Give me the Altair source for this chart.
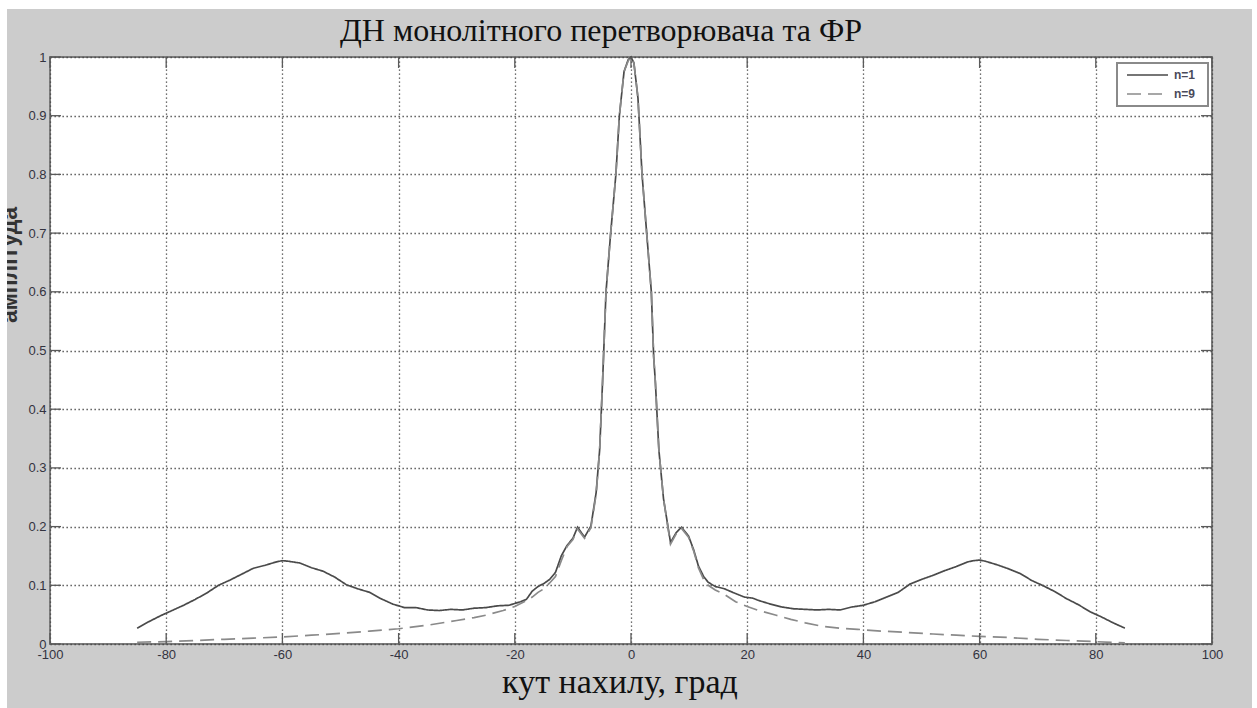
import altair as alt
import pandas as pd

# ---- data ----
angle_n1 = [-85, -83, -81, -79, -77, -75, -73, -71, -69, -67, -65, -63, -61, -60, -59, -57, -55, -53,
            -51, -49, -47, -45, -43, -41, -39, -37, -35, -33, -31, -29, -27, -25, -23, -21, -20, -19,
            -18, -17, -16, -15, -14, -13, -12, -11, -10, -9.2, -8, -6.9, -6, -5.4, -4.9, -4.3, -3.5,
            -2.6, -2, -1.2, -0.5, 0, 0.5, 1.2, 1.9, 2.7, 3.5, 3.9, 4.2, 4.8, 5.6, 6.8, 7.8, 8.7, 9.9,
            10.8, 11.6, 12.5, 13.3, 14.5, 16.1, 17.5, 19.5, 21, 22, 24, 26, 28, 30, 32, 34, 36, 38,
            40, 42, 44, 46, 48, 50, 52, 54, 56, 58, 59, 60, 61, 63, 65, 67, 69, 71, 73, 75, 77, 79,
            81, 83, 85]
amp_n1 = [0.027, 0.038, 0.048, 0.057, 0.066, 0.076, 0.087, 0.100, 0.109, 0.119, 0.129, 0.134, 0.140,
          0.142, 0.141, 0.138, 0.130, 0.124, 0.114, 0.101, 0.094, 0.088, 0.077, 0.068, 0.062, 0.062,
          0.058, 0.057, 0.059, 0.058, 0.061, 0.062, 0.065, 0.066, 0.069, 0.072, 0.076, 0.090, 0.098,
          0.103, 0.110, 0.122, 0.150, 0.168, 0.180, 0.199, 0.182, 0.201, 0.258, 0.33, 0.445, 0.60,
          0.70, 0.80, 0.90, 0.975, 0.995, 1.0, 0.99, 0.93, 0.80, 0.70, 0.60, 0.49, 0.445, 0.33, 0.247,
          0.173, 0.19, 0.199, 0.184, 0.16, 0.133, 0.115, 0.105, 0.098, 0.094, 0.088, 0.080, 0.078,
          0.074, 0.068, 0.063, 0.060, 0.059, 0.058, 0.059, 0.058, 0.063, 0.066, 0.072, 0.080, 0.088,
          0.102, 0.110, 0.117, 0.125, 0.132, 0.140, 0.142, 0.143, 0.141, 0.135, 0.128, 0.120, 0.108,
          0.099, 0.089, 0.077, 0.067, 0.055, 0.046, 0.036, 0.027]

angle_n9 = [-85, -80, -75, -70, -65, -60, -55, -50, -45, -40, -35, -30, -27, -25, -22, -20, -18, -17,
            -16, -15, -14, -13, -12, -11, -10, -9.2, -8, -6.9, -6, -5.4, -4.9, -4.3, -3.5, -2.6, -2,
            -1.2, -0.5, 0, 0.5, 1.2, 1.9, 2.7, 3.5, 3.9, 4.2, 4.8, 5.6, 6.8, 7.8, 8.7, 9.9, 10.8, 11.6,
            12.5, 13.3, 14.5, 16, 18, 20, 22, 25, 27.5, 30, 33, 36, 39, 43, 47, 52, 56, 60, 65, 70, 75,
            80, 85]
amp_n9 = [0.003, 0.004, 0.006, 0.008, 0.010, 0.012, 0.015, 0.018, 0.022, 0.026, 0.032, 0.040, 0.045,
          0.049, 0.057, 0.064, 0.074, 0.080, 0.088, 0.094, 0.104, 0.115, 0.142, 0.166, 0.178, 0.196,
          0.180, 0.198, 0.255, 0.33, 0.445, 0.60, 0.70, 0.80, 0.90, 0.975, 0.993, 1.0, 0.99, 0.93,
          0.80, 0.70, 0.60, 0.49, 0.445, 0.33, 0.247, 0.17, 0.188, 0.197, 0.182, 0.158, 0.13, 0.11,
          0.100, 0.092, 0.085, 0.072, 0.064, 0.057, 0.049, 0.042, 0.036, 0.030, 0.027, 0.025, 0.022,
          0.020, 0.017, 0.015, 0.013, 0.011, 0.008, 0.006, 0.004, 0.002]

series_names = ["n=1", "n=9"]
x_ticks = [-100, -80, -60, -40, -20, 0, 20, 40, 60, 80, 100]
y_ticks = [0, 0.1, 0.2, 0.3, 0.4, 0.5, 0.6, 0.7, 0.8, 0.9, 1]

title_text = "ДН монолітного перетворювача та ФР"
x_title = "кут нахилу, град"
y_title = "амплітуда"

# ---- layout ----
W, H = 1162, 587
PL, PT, PR, PB = 50, 57, 45, 64

df = pd.concat([
    pd.DataFrame({"angle": angle_n1, "amp": amp_n1, "series": series_names[0]}),
    pd.DataFrame({"angle": angle_n9, "amp": amp_n9, "series": series_names[1]}),
], ignore_index=True)

xs = alt.Scale(domain=[-100, 100], nice=False, zero=False)
ys = alt.Scale(domain=[0, 1], nice=False, zero=False)
COLS = ["#4a4a4a", "#8a8a8a"]
DASHES = [[1, 0], [14, 7]]
col_scale = alt.Scale(domain=series_names, range=COLS)
dash_scale = alt.Scale(domain=series_names, range=DASHES)

lab_font = "Liberation Sans"
lab_color = "#33333f"

AX = alt.Axis(
    values=x_ticks, grid=True, ticks=False, tickSize=0, domain=False, title=None,
    labelExpr="'' + datum.value", labelPadding=4, labelFontSize=13, labelFont=lab_font,
    labelColor=lab_color, labelFlush=False)
AY = alt.Axis(
    values=y_ticks, grid=True, ticks=False, tickSize=0, domain=False, title=None,
    format="~g", labelPadding=4, labelFontSize=13, labelFont=lab_font,
    labelColor=lab_color, labelFlush=False)

lines = alt.Chart(df).mark_line(strokeWidth=1.7).encode(
    x=alt.X("angle:Q", scale=xs, axis=AX),
    y=alt.Y("amp:Q", scale=ys, axis=AY),
    color=alt.Color("series:N", scale=col_scale, legend=None),
    strokeDash=alt.StrokeDash("series:N", scale=dash_scale, legend=None),
)

xt = pd.DataFrame({"angle": x_ticks})
yt = pd.DataFrame({"amp": y_ticks})
TL = 11
tick_col = "#5a5a5a"
xtick_bot = alt.Chart(xt).mark_rule(color=tick_col, strokeWidth=1.3).encode(
    x=alt.X("angle:Q", scale=xs, axis=AX), y=alt.value(H), y2=alt.value(H - TL))
xtick_top = alt.Chart(xt).mark_rule(color=tick_col, strokeWidth=1.3).encode(
    x=alt.X("angle:Q", scale=xs, axis=AX), y=alt.value(0), y2=alt.value(TL))
ytick_l = alt.Chart(yt).mark_rule(color=tick_col, strokeWidth=1.3).encode(
    y=alt.Y("amp:Q", scale=ys, axis=AY), x=alt.value(0), x2=alt.value(TL))
ytick_r = alt.Chart(yt).mark_rule(color=tick_col, strokeWidth=1.3).encode(
    y=alt.Y("amp:Q", scale=ys, axis=AY), x=alt.value(W), x2=alt.value(W - TL))

one = pd.DataFrame({"a": [0]})
title_mark = alt.Chart(one).mark_text(
    text=title_text, font="Liberation Serif", fontSize=32, color="#111111",
    align="center", baseline="alphabetic").encode(x=alt.value(551), y=alt.value(-16))
xtitle_mark = alt.Chart(one).mark_text(
    text=x_title, font="Liberation Serif", fontSize=34, color="#111111",
    align="center", baseline="alphabetic").encode(x=alt.value(570), y=alt.value(636))
ytitle_mark = alt.Chart(one).mark_text(
    text=y_title, font=lab_font, fontSize=23, fontWeight="bold", color="#333333",
    align="center", baseline="alphabetic", angle=270).encode(x=alt.value(-33), y=alt.value(208))

# white strips outside the gray figure area
strip_l = alt.Chart(one).mark_rect(color="white").encode(
    x=alt.value(-PL), x2=alt.value(-PL + 7), y=alt.value(-PT), y2=alt.value(H + PB))
strip_t = alt.Chart(one).mark_rect(color="white").encode(
    x=alt.value(-PL), x2=alt.value(W + PR), y=alt.value(-PT), y2=alt.value(-PT + 9))
strip_r = alt.Chart(one).mark_rect(color="white").encode(
    x=alt.value(W + PR - 5), x2=alt.value(W + PR), y=alt.value(-PT), y2=alt.value(H + PB))

# legend (drawn by hand)
LX0, LX1, LY0, LY1 = 1067, 1158, 6, 49
ROW_Y = [18, 37]
leg_box = alt.Chart(one).mark_rect(fill="white", stroke="#8a8a8a", strokeWidth=2).encode(
    x=alt.value(LX0), x2=alt.value(LX1), y=alt.value(LY0), y2=alt.value(LY1))
leg_parts = [leg_box]
for i, name in enumerate(series_names):
    leg_parts.append(alt.Chart(one).mark_rule(
        strokeWidth=1.7, color=COLS[i], strokeDash=DASHES[i]).encode(
        x=alt.value(LX0 + 10), x2=alt.value(LX0 + 51), y=alt.value(ROW_Y[i])))
    leg_parts.append(alt.Chart(one).mark_text(
        text=name, font=lab_font, fontSize=12, fontWeight="bold", color="#4a4a5a",
        align="left", baseline="middle").encode(
        x=alt.value(LX0 + 57), y=alt.value(ROW_Y[i])))

chart = alt.layer(
    lines, xtick_bot, xtick_top, ytick_l, ytick_r,
    title_mark, xtitle_mark, ytitle_mark,
    strip_l, strip_t, strip_r,
    *leg_parts,
).properties(
    width=W, height=H,
    autosize=alt.AutoSizeParams(type="none"),
    padding={"left": PL, "top": PT, "right": PR, "bottom": PB},
).configure(
    background="#cccccc",
).configure_view(
    fill="white", stroke="#7c7c7c", strokeWidth=2,
).configure_axis(
    gridColor="#444444", gridDash=[1.3, 2.7], gridWidth=1.3, gridOpacity=1,
)

chart.save("out.html", embed_options={"renderer": "svg", "actions": False})
